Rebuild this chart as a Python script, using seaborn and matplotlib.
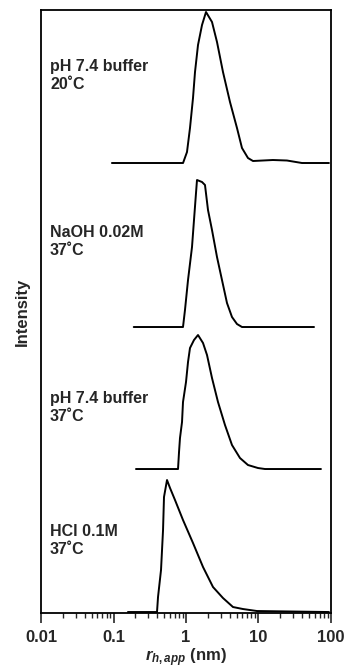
import numpy as np
import pandas as pd
import matplotlib
matplotlib.use("Agg")
import matplotlib.pyplot as plt
import seaborn as sns

# DLS size distributions, apparent hydrodynamic radius (nm) vs intensity
r_ph74_20 = [0.095, 0.91, 1.032, 1.135, 1.249, 1.331, 1.464, 1.663, 1.888, 2.284, 2.677,
             3.238, 4.045, 5.052, 5.922, 7.163, 8.40, 15.8, 24.7, 39.8, 93.8]
i_ph74_20 = [0, 0, 11, 35, 65, 91, 118, 138, 151, 141, 121,
             91, 61, 35, 15, 5, 2, 3, 2.5, 0, 0]

r_naoh = [0.19, 0.909, 0.968, 1.066, 1.210, 1.289, 1.374, 1.418, 1.663, 1.828, 2.011,
          2.284, 2.677, 3.137, 3.677, 4.31, 5.052, 5.922, 58.4]
i_naoh = [0, 0, 17, 47, 80, 107, 134, 147, 145, 142, 117,
          97, 70, 47, 24, 10, 3, 0, 0]

r_ph74_37 = [0.204, 0.776, 0.801, 0.826, 0.881, 0.909, 1.0, 1.066, 1.135, 1.289, 1.464,
             1.717, 1.949, 2.284, 2.763, 3.45, 4.31, 5.556, 7.163, 9.84, 12.3, 72.8]
i_ph74_37 = [0, 0, 17, 31, 47, 67, 87, 107, 121, 129, 134,
             126, 114, 91, 67, 44, 24, 11, 4, 1, 0, 0]

r_hcl = [0.158, 0.398, 0.411, 0.452, 0.482, 0.497, 0.547, 0.602, 0.705, 0.909, 1.249,
         1.717, 2.358, 3.238, 4.45, 6.11, 9.53, 93.8]
i_hcl = [0, 0, 15, 42, 82, 115, 132, 124, 112, 92, 69,
         45, 25, 14, 5, 3, 1, 0]

labels = ["pH 7.4 buffer\n20˚C", "NaOH 0.02M\n37˚C", "pH 7.4 buffer\n37˚C", "HCl 0.1M\n37˚C"]
offsets = [450, 286, 144, 1]            # vertical stacking of traces
label_y = [0.918, 0.643, 0.368, 0.147]  # label tops, axes fraction

series = [(r_ph74_20, i_ph74_20), (r_naoh, i_naoh), (r_ph74_37, i_ph74_37), (r_hcl, i_hcl)]

sns.set_style("white")
plt.rcParams["font.family"] = ["Liberation Sans", "DejaVu Sans"]
plt.rcParams["font.weight"] = "bold"
plt.rcParams["mathtext.fontset"] = "custom"
plt.rcParams["mathtext.it"] = "Liberation Sans:italic:bold"
plt.rcParams["mathtext.rm"] = "Liberation Sans:bold"

fig = plt.figure(figsize=(3.48, 6.71), dpi=100)
ax = fig.add_axes([0.118, 0.0864, 0.833, 0.8987])

for (r, inten), off in zip(series, offsets):
    df = pd.DataFrame({"r": r, "I": np.array(inten) + off})
    sns.lineplot(data=df, x="r", y="I", color="black", lw=1.4, sort=False,
                 estimator=None, ax=ax)

for lab, yy in zip(labels, label_y):
    ax.text(0.031, yy, lab, transform=ax.transAxes, fontsize=11.5,
            fontweight="bold", va="top", ha="left", linespacing=1.25)

ax.set_xscale("log")
ax.set_xlim(0.01, 100)
ax.set_ylim(0, 603)
ax.set_xticks([0.01, 0.1, 1, 10, 100])
ax.set_xticklabels(["0.01", "0.1", "1", "10", "100"])
ax.set_yticks([])
ax.tick_params(axis="x", which="major", direction="out", length=7, width=1.2,
               labelsize=12, pad=5, bottom=True)
ax.tick_params(axis="x", which="minor", direction="out", length=3.5, width=1,
               bottom=True)
for s in ax.spines.values():
    s.set_linewidth(1.3)
    s.set_color("black")

ax.set_xlabel(r"$\mathit{r}_{\mathit{h,app}}$ (nm)", fontsize=12, fontweight="bold", labelpad=1)
ax.set_ylabel("Intensity", fontsize=12, fontweight="bold", labelpad=8)

fig.savefig("out.png", dpi=100)
